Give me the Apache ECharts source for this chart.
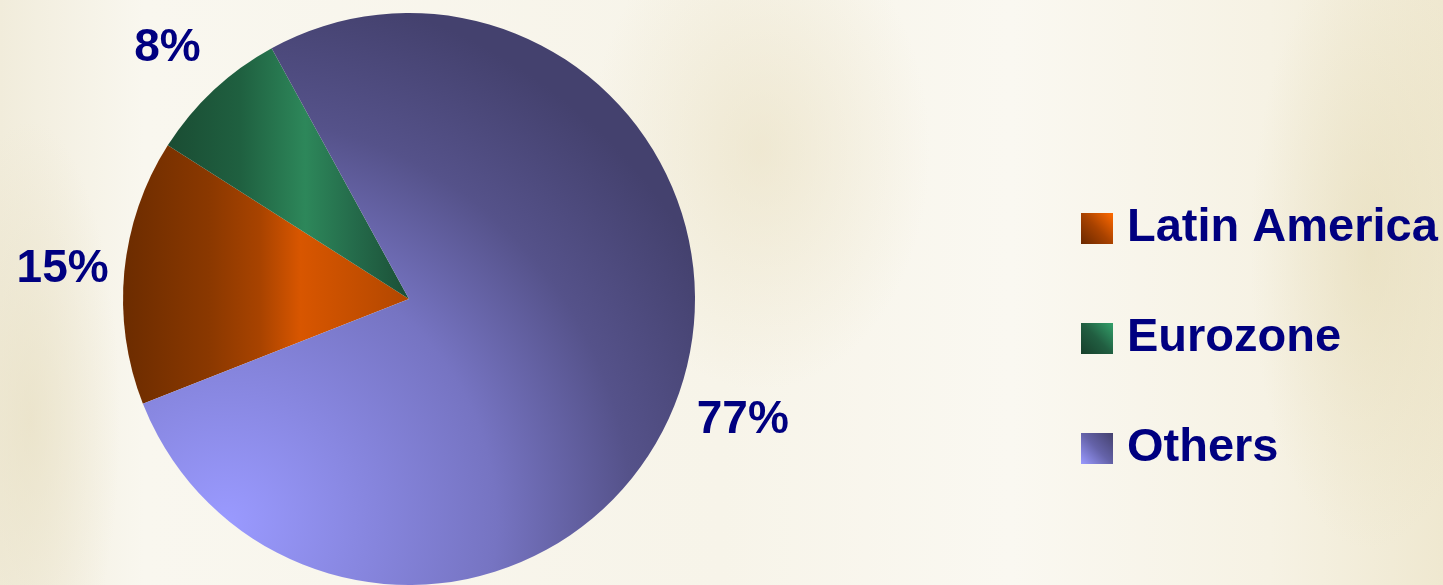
<!DOCTYPE html>
<html>
<head>
<meta charset="utf-8">
<script src="https://cdn.jsdelivr.net/npm/echarts@6/dist/echarts.min.js"></script>
<style>
html,body{margin:0;padding:0;width:1443px;height:585px;overflow:hidden;}
body{
  background:
    radial-gradient(ellipse 170px 240px at 760px 150px, rgba(232,222,190,0.55), rgba(232,222,190,0) 100%),
    radial-gradient(ellipse 120px 300px at 1370px 250px, rgba(230,220,185,0.6), rgba(230,220,185,0) 100%),
    radial-gradient(ellipse 90px 300px at 30px 420px, rgba(232,224,196,0.7), rgba(232,224,196,0) 100%),
    linear-gradient(90deg, #f1ecdb 0%, #f9f7ef 10%, #f7f4e9 50%, #faf8f1 70%, #f6f2e4 88%, #efe8d0 100%);
}
#chart{width:1443px;height:585px;}
</style>
</head>
<body>
<div id="chart"></div>
<script>
// ---- data ----
const categories = ['Latin America', 'Eurozone', 'Others'];
const shares = [15, 8, 77];

// ---- styles ----
const fills = [
  new echarts.graphic.LinearGradient(0, 0, 1, 0, [
    {offset: 0, color: '#6c2c00'},
    {offset: 0.3, color: '#8a3800'},
    {offset: 0.48, color: '#a84300'},
    {offset: 0.62, color: '#d85600'},
    {offset: 0.8, color: '#c64f00'},
    {offset: 1, color: '#b24700'}
  ]),
  new echarts.graphic.LinearGradient(0, 0, 1, 0, [
    {offset: 0, color: '#1a4c33'},
    {offset: 0.3, color: '#1f6040'},
    {offset: 0.57, color: '#2d875a'},
    {offset: 0.78, color: '#246a4a'},
    {offset: 1, color: '#1b4f36'}
  ]),
  new echarts.graphic.RadialGradient(0.15, 0.89, 0.98, [
    {offset: 0, color: '#9a9aff'},
    {offset: 0.5, color: '#7674c2'},
    {offset: 0.75, color: '#55528a'},
    {offset: 1, color: '#44416e'}
  ])
];
const iconFills = [
  new echarts.graphic.LinearGradient(0, 1, 1, 0, [
    {offset: 0, color: '#6a2800'}, {offset: 0.5, color: '#a84200'}, {offset: 1, color: '#ff6a00'}
  ]),
  new echarts.graphic.LinearGradient(0, 1, 1, 0, [
    {offset: 0, color: '#173f2b'}, {offset: 0.5, color: '#215e41'}, {offset: 1, color: '#33a06a'}
  ]),
  new echarts.graphic.LinearGradient(0, 1, 1, 0, [
    {offset: 0, color: '#9a9aff'}, {offset: 0.5, color: '#6462a8'}, {offset: 1, color: '#44416e'}
  ])
];
// fine placement of the percentage labels
const labelOffsets = [[7, 4], [1, 9], [0, 0]];

const CENTER = [409, 299];
const R = 286;
const START = 201.5;
const FONT = '"Liberation Sans", Arial, sans-serif';

const chart = echarts.init(document.getElementById('chart'), null, {renderer: 'canvas'});
chart.setOption({
  backgroundColor: 'transparent',
  animation: false,
  legend: {
    orient: 'vertical',
    left: 1081,
    top: 202,
    padding: 0,
    icon: 'rect',
    itemWidth: 32,
    itemHeight: 31,
    itemGap: 57,
    selectedMode: false,
    data: categories.map((name, i) => ({name: name, itemStyle: {color: iconFills[i]}})),
    textStyle: {
      color: '#000080',
      fontFamily: FONT,
      fontWeight: 'bold',
      fontSize: 47,
      lineHeight: 47,
      padding: [0, 0, 6, 9]
    }
  },
  series: [
    {
      type: 'pie',
      center: CENTER,
      radius: R,
      startAngle: START,
      clockwise: true,
      avoidLabelOverlap: false,
      silent: true,
      label: {show: false},
      labelLine: {show: false},
      itemStyle: {borderWidth: 0},
      data: categories.map((name, i) => ({
        name: name,
        value: shares[i],
        itemStyle: {color: fills[i]}
      }))
    },
    {
      type: 'pie',
      center: CENTER,
      radius: [340, 364],
      startAngle: START,
      clockwise: true,
      avoidLabelOverlap: false,
      silent: true,
      itemStyle: {color: 'rgba(0,0,0,0)', borderWidth: 0},
      label: {
        show: true,
        position: 'inside',
        formatter: '{c}%',
        color: '#000080',
        fontFamily: FONT,
        fontWeight: 'bold',
        fontSize: 46
      },
      labelLine: {show: false},
      data: categories.map((name, i) => ({
        name: name,
        value: shares[i],
        label: {offset: labelOffsets[i]}
      }))
    }
  ]
});
</script>
</body>
</html>
